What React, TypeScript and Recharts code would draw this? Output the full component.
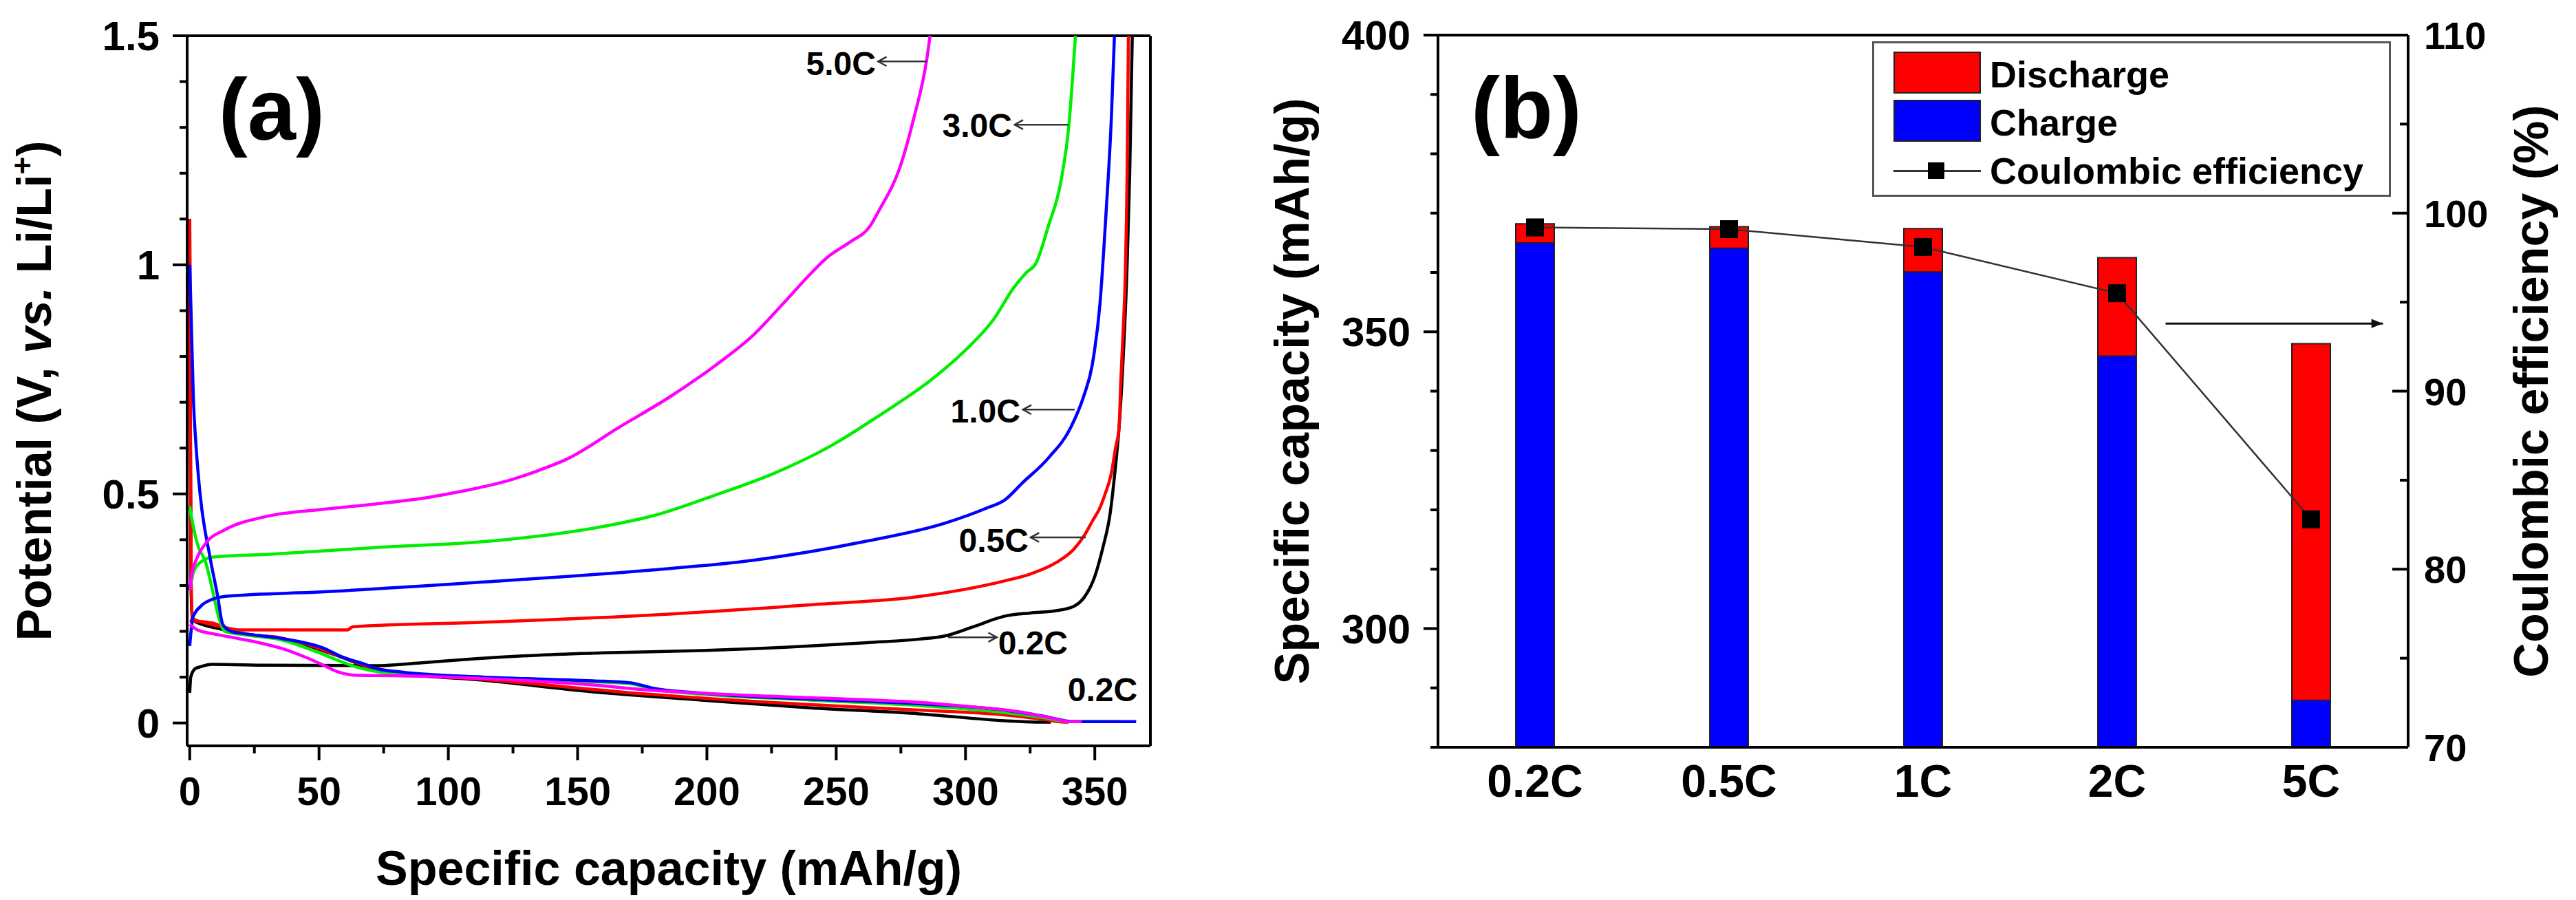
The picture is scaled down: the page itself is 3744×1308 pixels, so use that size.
import React from 'react';
import {
  LineChart,
  Line,
  ComposedChart,
  Bar,
  XAxis,
  YAxis,
  ReferenceLine,
  ReferenceDot,
  Label,
  Legend,
} from 'recharts';

const FONT = "'Liberation Sans', Arial, Helvetica, sans-serif";

// ---------- (a) galvanostatic profiles: [capacity (mAh/g), potential (V)] ----------
const discharge02 = [
  [0, 1.1], [0.3, 0.6], [0.5, 0.3], [1, 0.225], [5, 0.215], [12, 0.205], [20, 0.195], [35, 0.185],
  [45, 0.17], [58, 0.145], [70, 0.12], [82, 0.108], [114, 0.093], [156, 0.068], [198, 0.05],
  [240, 0.033], [282, 0.02], [315, 0.005], [327, 0.002], [333, 0.002],
];
const charge02 = [
  [0, 0.066], [0.4, 0.1], [2, 0.118], [4.3, 0.123], [8.8, 0.128], [30, 0.126], [72, 0.125], [89, 0.131],
  [110, 0.14], [135, 0.148], [160, 0.153], [198, 0.158], [240, 0.168], [261, 0.175], [282, 0.183],
  [292, 0.19], [303, 0.21], [315, 0.233], [325, 0.24], [335, 0.245], [342, 0.255], [346, 0.275],
  [350, 0.32], [353, 0.38], [356, 0.46], [358, 0.56], [359.4, 0.646], [361, 0.8], [362.5, 1.0],
  [363.5, 1.2], [364.5, 1.5],
];
const discharge05 = [
  [0, 1.1], [0.3, 0.6], [0.6, 0.3], [1, 0.228], [5, 0.22], [12, 0.21], [20, 0.196], [35, 0.186],
  [45, 0.172], [58, 0.146], [70, 0.121], [82, 0.109], [114, 0.095], [177, 0.063], [240, 0.04],
  [282, 0.028], [315, 0.0175], [330, 0.008], [338, 0.002], [340, 0.002],
];
const charge05 = [
  [0, 0.223], [3, 0.222], [8.8, 0.218], [14, 0.208], [19, 0.203], [61, 0.203], [63, 0.21], [114, 0.22],
  [177, 0.235], [240, 0.258], [282, 0.276], [315, 0.31], [325, 0.325], [335, 0.35], [342, 0.38],
  [346, 0.41], [349, 0.44], [352, 0.47], [354, 0.5], [356.4, 0.545], [358, 0.6], [359.4, 0.646],
  [360, 0.74], [361, 0.86], [361.8, 0.98], [362.5, 1.2], [363, 1.5],
];
const discharge10 = [
  [0, 1.0], [0.5, 0.9], [1.4, 0.71], [2.5, 0.6], [4, 0.5], [7.7, 0.366], [10.7, 0.28], [12.8, 0.215],
  [16, 0.2], [21, 0.195], [35, 0.185], [43.7, 0.176], [51, 0.165], [59, 0.144], [67.7, 0.128],
  [72, 0.119], [82, 0.111], [114, 0.1], [156, 0.092], [170, 0.088], [180, 0.075], [198, 0.065],
  [240, 0.052], [282, 0.042], [315, 0.028], [330, 0.015], [342, 0.003], [366, 0.003],
];
const charge10 = [
  [0, 0.168], [0.5, 0.2], [1.2, 0.23], [4.3, 0.255], [8.8, 0.27], [15, 0.277], [50.8, 0.286],
  [114, 0.308], [177, 0.333], [219, 0.356], [261, 0.396], [292, 0.436], [308.6, 0.47], [315, 0.486],
  [322, 0.524], [332, 0.578], [340.8, 0.646], [345.7, 0.713], [349, 0.781], [352, 0.915],
  [354.4, 1.118], [356.4, 1.32], [357.6, 1.5],
];
const discharge30 = [
  [0, 0.473], [1, 0.44], [3, 0.39], [6.2, 0.35], [8.4, 0.3], [11.5, 0.225], [13.6, 0.2], [20.5, 0.193],
  [35, 0.182], [48.8, 0.156], [64, 0.123], [74, 0.111], [114, 0.1], [156, 0.09], [170, 0.086],
  [180, 0.073], [198, 0.063], [240, 0.05], [282, 0.038], [315, 0.023], [330, 0.012], [340, 0.003],
  [359, 0.003],
];
const charge30 = [
  [0, 0.29], [1, 0.32], [3, 0.345], [8.8, 0.362], [30, 0.368], [72, 0.383], [114, 0.396], [156, 0.425],
  [181, 0.455], [203, 0.497], [226, 0.545], [248, 0.605], [267.7, 0.675], [286.3, 0.747], [300, 0.814],
  [311, 0.882], [318.5, 0.949], [323.5, 0.983], [327.2, 1.003], [332, 1.084], [337, 1.185],
  [340, 1.306], [342.5, 1.5],
];
const discharge50 = [
  [0, 0.215], [3, 0.203], [8.8, 0.195], [19, 0.184], [27, 0.175], [36, 0.162], [45, 0.143], [51, 0.128],
  [57, 0.112], [65, 0.104], [82, 0.103], [114, 0.097], [156, 0.083], [177, 0.072], [198, 0.065],
  [240, 0.055], [282, 0.045], [303, 0.035], [320, 0.025], [332, 0.012], [340, 0.003], [345, 0.003],
];
const charge50 = [
  [0, 0.29], [1, 0.33], [2.5, 0.356], [6.7, 0.396], [13, 0.42], [29.8, 0.451], [50.8, 0.466],
  [71.8, 0.478], [92.9, 0.493], [105.5, 0.506], [124.4, 0.531], [139, 0.56], [145.5, 0.575],
  [166.2, 0.646], [186, 0.713], [203.4, 0.781], [218.2, 0.848], [229.4, 0.915], [240.5, 0.983],
  [246.7, 1.017], [255.4, 1.05], [263, 1.084], [266.5, 1.118], [275, 1.219], [280, 1.32],
  [285, 1.448], [286.3, 1.5],
];

const xTicksA = [0, 25, 50, 75, 100, 125, 150, 175, 200, 225, 250, 275, 300, 325, 350];
const xLabelsA = [0, 50, 100, 150, 200, 250, 300, 350];
const yTicksA = [0, 0.1, 0.2, 0.3, 0.4, 0.5, 0.6, 0.7, 0.8, 0.9, 1, 1.1, 1.2, 1.3, 1.4, 1.5];
const yLabelsA = [0, 0.5, 1, 1.5];

// ---------- (b) rate capability ----------
const rates = ['0.2C', '0.5C', '1C', '2C', '5C'];
const dischargeCap = [368.2, 367.7, 367.4, 362.5, 348.0];
const chargeCap = [365.0, 364.1, 360.1, 345.9, 287.9];
const coulombicEff = [99.2, 99.1, 98.1, 95.5, 82.8];

const yTicksB = [280, 290, 300, 310, 320, 330, 340, 350, 360, 370, 380, 390, 400];
const yLabelsB = [300, 350, 400];
const ceTicks = [70, 75, 80, 85, 90, 95, 100, 105, 110];
const ceLabels = [70, 80, 90, 100, 110];

const toRows = (pts: number[][]) => pts.map(([cap, v]) => ({ cap, v }));

const seriesA = [
  { id: 'd02', color: '#000000', pts: discharge02 },
  { id: 'c02', color: '#000000', pts: charge02 },
  { id: 'd05', color: '#ff0000', pts: discharge05 },
  { id: 'c05', color: '#ff0000', pts: charge05 },
  { id: 'd30', color: '#00ee00', pts: discharge30 },
  { id: 'c30', color: '#00ee00', pts: charge30 },
  { id: 'd10', color: '#0000ff', pts: discharge10 },
  { id: 'c10', color: '#0000ff', pts: charge10 },
  { id: 'd50', color: '#ff00ff', pts: discharge50 },
  { id: 'c50', color: '#ff00ff', pts: charge50 },
];

const rateLabelsA = [
  { text: '5.0C', cap: 265.3, v: 1.44, anchor: 'end' },
  { text: '3.0C', cap: 318, v: 1.305, anchor: 'end' },
  { text: '1.0C', cap: 321.2, v: 0.681, anchor: 'end' },
  { text: '0.5C', cap: 324.4, v: 0.399, anchor: 'end' },
  { text: '0.2C', cap: 312.6, v: 0.175, anchor: 'start' },
  { text: '0.2C', cap: 339.5, v: 0.073, anchor: 'start' },
];
const arrowsA = [
  { x1: 285.2, y1: 1.444, x2: 266.2, y2: 1.444 },
  { x1: 339.8, y1: 1.306, x2: 319, y2: 1.306 },
  { x1: 342.2, y1: 0.684, x2: 322.2, y2: 0.684 },
  { x1: 346.5, y1: 0.405, x2: 325.2, y2: 0.405 },
  { x1: 293.2, y1: 0.187, x2: 312.1, y2: 0.187 },
];

// (b) annotations: arrow toward the efficiency axis, panel tag; x as share of plot width
const ceArrow = { ce: 93.8, from: 0.75, to: 0.974 };
const tagB = { cap: 386.8, at: 0.034 };

const isIn = (list: number[], v: number) => list.some((m) => Math.abs(m - v) < 1e-6);

const txt = { fontFamily: FONT, fontWeight: 'bold' as const, fill: '#000' };

function arrowPath(x1: number, y1: number, x2: number, y2: number, filled: boolean, color: string, width: number) {
  const ang = Math.atan2(y2 - y1, x2 - x1);
  const len = filled ? 18 : 14;
  const spread = filled ? 0.38 : 0.5;
  const ax = x2 - len * Math.cos(ang - spread);
  const ay = y2 - len * Math.sin(ang - spread);
  const bx = x2 - len * Math.cos(ang + spread);
  const by = y2 - len * Math.sin(ang + spread);
  return (
    <g>
      <line x1={x1} y1={y1} x2={x2} y2={y2} stroke={color} strokeWidth={width} />
      {filled ? (
        <polygon points={`${x2},${y2} ${ax},${ay} ${bx},${by}`} fill={color} />
      ) : (
        <polyline points={`${ax},${ay} ${x2},${y2} ${bx},${by}`} fill="none" stroke={color} strokeWidth={width} />
      )}
    </g>
  );
}

function arrowShape(filled: boolean, color: string, width: number) {
  return (p: any) => arrowPath(p.x1, p.y1, p.x2, p.y2, filled, color, width);
}

// horizontal extent of a full-width reference line, whatever the axis side
const spanOf = (p: any) => {
  const left = Math.min(p.x1, p.x2);
  return { left, width: Math.abs(p.x2 - p.x1) };
};

function BottomTickA(p: any) {
  const { x, y, payload } = p;
  const major = isIn(xLabelsA, payload.value);
  return (
    <g>
      <line x1={x} x2={x} y1={y} y2={y + (major ? 21 : 11)} stroke="#000" strokeWidth={4} />
      {major && (
        <text x={x} y={y + 86} textAnchor="middle" fontSize={58} {...txt}>
          {payload.value}
        </text>
      )}
    </g>
  );
}

function LeftTick(p: any, majors: number[], fontSize: number) {
  const { x, y, payload } = p;
  const major = isIn(majors, payload.value);
  return (
    <g>
      <line x1={x} x2={x - (major ? 21 : 11)} y1={y} y2={y} stroke="#000" strokeWidth={4} />
      {major && (
        <text x={x - 40} y={y + 21} textAnchor="end" fontSize={fontSize} {...txt}>
          {payload.value}
        </text>
      )}
    </g>
  );
}

function RightTickB(p: any) {
  const { x, y, payload } = p;
  const major = isIn(ceLabels, payload.value);
  return (
    <g>
      <line x1={x} x2={x - (major ? 23 : 12)} y1={y} y2={y} stroke="#000" strokeWidth={4} />
      {major && (
        <text x={x + 23} y={y + 20} textAnchor="start" fontSize={56} {...txt}>
          {payload.value}
        </text>
      )}
    </g>
  );
}

function BottomTickB(p: any) {
  const { x, y, payload } = p;
  return (
    <text x={x} y={y + 72} textAnchor="middle" fontSize={66} {...txt}>
      {payload.value}
    </text>
  );
}

function SquareDot(p: any) {
  const { cx, cy } = p;
  if (cx == null || cy == null) return null;
  return <rect x={cx - 13} y={cy - 13} width={26} height={26} fill="#000" />;
}

function LegendBox() {
  const row = (top: number): React.CSSProperties => ({
    position: 'absolute',
    left: 168,
    top,
    fontFamily: FONT,
    fontWeight: 'bold',
    fontSize: 54,
    lineHeight: '60px',
    color: '#000',
    whiteSpace: 'nowrap',
  });
  const swatch = (top: number, color: string): React.CSSProperties => ({
    position: 'absolute',
    left: 28,
    top,
    width: 127,
    height: 61,
    background: color,
    border: '2px solid #222',
    boxSizing: 'border-box',
  });
  return (
    <div
      style={{
        position: 'relative',
        width: 754,
        height: 226,
        border: '3px solid #555',
        boxSizing: 'border-box',
        background: '#fff',
      }}
    >
      <div style={swatch(12, '#ff0000')} />
      <div style={row(15)}>Discharge</div>
      <div style={swatch(82, '#0000ff')} />
      <div style={row(85)}>Charge</div>
      <div style={{ position: 'absolute', left: 28, top: 184, width: 127, height: 3, background: '#333' }} />
      <div style={{ position: 'absolute', left: 78, top: 173, width: 24, height: 24, background: '#000' }} />
      <div style={row(155)}>Coulombic efficiency</div>
    </div>
  );
}

function PanelA() {
  return (
    <LineChart width={1760} height={1308} margin={{ top: 52, right: 88, bottom: 0, left: 0 }}>
      <XAxis
        type="number"
        dataKey="cap"
        domain={[-1, 371.5]}
        allowDataOverflow
        ticks={xTicksA}
        interval={0}
        tickSize={0}
        tickMargin={0}
        tickLine={false}
        tick={(p: any) => <BottomTickA {...p} />}
        height={224}
        axisLine={{ stroke: '#000', strokeWidth: 4 }}
      >
        <Label
          content={(p: any) => (
            <text
              x={p.viewBox.x + p.viewBox.width / 2}
              y={p.viewBox.y + 202}
              textAnchor="middle"
              fontSize={70}
              {...txt}
            >
              Specific capacity (mAh/g)
            </text>
          )}
        />
      </XAxis>
      <YAxis
        type="number"
        domain={[-0.05, 1.5]}
        allowDataOverflow
        ticks={yTicksA}
        interval={0}
        tickSize={0}
        tickMargin={0}
        tickLine={false}
        tick={(p: any) => LeftTick(p, yLabelsA, 60)}
        width={272}
        axisLine={{ stroke: '#000', strokeWidth: 4 }}
      >
        <Label
          content={(p: any) => {
            const x = p.viewBox.x + 74;
            const y = p.viewBox.y + p.viewBox.height / 2;
            return (
              <text x={x} y={y} textAnchor="middle" fontSize={70} transform={`rotate(-90 ${x} ${y})`} {...txt}>
                Potential (V, <tspan fontStyle="italic">vs.</tspan> Li/Li
                <tspan fontSize={44} dy={-26}>+</tspan>
                <tspan dy={26}>)</tspan>
              </text>
            );
          }}
        />
      </YAxis>
      <ReferenceLine y={1.5} stroke="#000" strokeWidth={4} />
      <ReferenceLine x={371.5} stroke="#000" strokeWidth={4} />
      {seriesA.map((s) => (
        <Line
          key={s.id}
          data={toRows(s.pts)}
          dataKey="v"
          type="monotone"
          stroke={s.color}
          strokeWidth={4.5}
          dot={false}
          activeDot={false}
          isAnimationActive={false}
        />
      ))}
      {arrowsA.map((a, i) => (
        <ReferenceLine
          key={`arr${i}`}
          segment={[{ x: a.x1, y: a.y1 }, { x: a.x2, y: a.y2 }]}
          shape={arrowShape(false, '#333', 2.5)}
        />
      ))}
      {rateLabelsA.map((l, i) => (
        <ReferenceDot
          key={`lab${i}`}
          x={l.cap}
          y={l.v}
          r={0}
          shape={(p: any) => (
            <text x={p.cx} y={p.cy} dy={17} textAnchor={l.anchor as any} fontSize={48} {...txt}>
              {l.text}
            </text>
          )}
        />
      ))}
      <ReferenceDot
        x={11.2}
        y={1.327}
        r={0}
        shape={(p: any) => (
          <text x={p.cx} y={p.cy} dy={36} textAnchor="start" fontSize={126} {...txt}>
            (a)
          </text>
        )}
      />
    </LineChart>
  );
}

function PanelB() {
  const rows = rates.map((rate, i) => ({
    rate,
    discharge: dischargeCap[i],
    charge: chargeCap[i],
    ce: coulombicEff[i],
  }));
  return (
    <ComposedChart
      width={1984}
      height={1308}
      data={rows}
      margin={{ top: 51, right: 0, bottom: 0, left: 0 }}
      barGap={-56}
    >
      <XAxis
        dataKey="rate"
        type="category"
        tickSize={0}
        tickMargin={0}
        tickLine={false}
        interval={0}
        tick={(p: any) => <BottomTickB {...p} />}
        height={222}
        axisLine={{ stroke: '#000', strokeWidth: 4 }}
      />
      <YAxis
        yAxisId="left"
        type="number"
        domain={[280, 400]}
        allowDataOverflow
        ticks={yTicksB}
        interval={0}
        tickSize={0}
        tickMargin={0}
        tickLine={false}
        tick={(p: any) => LeftTick(p, yLabelsB, 60)}
        width={330}
        axisLine={{ stroke: '#000', strokeWidth: 4 }}
      >
        <Label
          content={(p: any) => {
            const x = p.viewBox.x + 142;
            const y = p.viewBox.y + p.viewBox.height / 2;
            return (
              <text x={x} y={y} textAnchor="middle" fontSize={70} transform={`rotate(-90 ${x} ${y})`} {...txt}>
                Specific capacity (mAh/g)
              </text>
            );
          }}
        />
      </YAxis>
      <YAxis
        yAxisId="ce"
        orientation="right"
        type="number"
        domain={[70, 110]}
        allowDataOverflow
        ticks={ceTicks}
        interval={0}
        tickSize={0}
        tickMargin={0}
        tickLine={false}
        tick={(p: any) => <RightTickB {...p} />}
        width={244}
        axisLine={{ stroke: '#000', strokeWidth: 4 }}
      >
        <Label
          content={(p: any) => {
            const x = p.viewBox.x + 203;
            const y = p.viewBox.y + p.viewBox.height / 2;
            return (
              <text x={x} y={y} textAnchor="middle" fontSize={70} transform={`rotate(-90 ${x} ${y})`} {...txt}>
                Coulombic efficiency (%)
              </text>
            );
          }}
        />
      </YAxis>
      <ReferenceLine yAxisId="left" y={400} stroke="#000" strokeWidth={4} />
      <Bar yAxisId="left" dataKey="discharge" fill="#ff0000" stroke="#222" strokeWidth={2} barSize={56} isAnimationActive={false} />
      <Bar yAxisId="left" dataKey="charge" fill="#0000ff" stroke="#222" strokeWidth={2} barSize={56} isAnimationActive={false} />
      <Line
        yAxisId="ce"
        dataKey="ce"
        type="linear"
        stroke="#333"
        strokeWidth={2.5}
        dot={(p: any) => <SquareDot key={`sq${p.index}`} {...p} />}
        activeDot={false}
        isAnimationActive={false}
      />
      <ReferenceLine
        yAxisId="ce"
        y={ceArrow.ce}
        shape={(p: any) => {
          const { left, width } = spanOf(p);
          return arrowPath(left + width * ceArrow.from, p.y1, left + width * ceArrow.to, p.y1, true, '#111', 3);
        }}
      />
      <ReferenceLine
        yAxisId="left"
        y={tagB.cap}
        shape={(p: any) => {
          const { left, width } = spanOf(p);
          return (
            <text x={left + width * tagB.at} y={p.y1} dy={36} textAnchor="start" fontSize={126} {...txt}>
              (b)
            </text>
          );
        }}
      />
      <Legend
        layout="vertical"
        align="center"
        verticalAlign="middle"
        wrapperStyle={{ position: 'absolute', left: 961, top: 60, width: 754, height: 226 }}
        content={() => <LegendBox />}
      />
    </ComposedChart>
  );
}

export default function App() {
  return (
    <div
      style={{
        position: 'absolute',
        left: 0,
        top: 0,
        width: 3744,
        height: 1308,
        background: '#fff',
        overflow: 'hidden',
      }}
    >
      <div style={{ position: 'absolute', left: 0, top: 0 }}>
        <PanelA />
      </div>
      <div style={{ position: 'absolute', left: 1760, top: 0 }}>
        <PanelB />
      </div>
    </div>
  );
}
